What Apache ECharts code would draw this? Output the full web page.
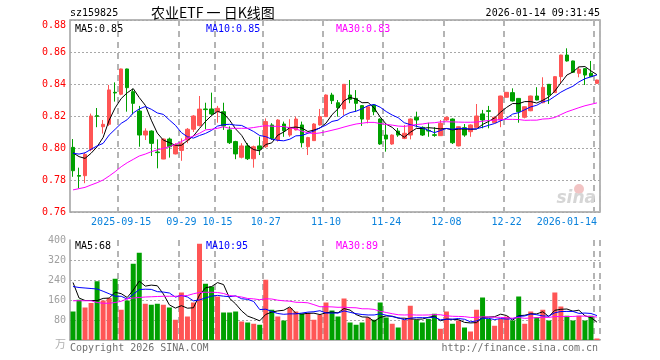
<!DOCTYPE html>
<html><head><meta charset="utf-8">
<script src="https://cdn.jsdelivr.net/npm/echarts@6/dist/echarts.min.js"></script>
<style>html,body{margin:0;padding:0;background:#fff}#c{width:660px;height:360px}</style>
</head><body><div id="c"></div>
<script>
const categories = [
'2025-09-03','2025-09-04','2025-09-05','2025-09-08','2025-09-09','2025-09-10','2025-09-11','2025-09-12','2025-09-15','2025-09-16',
'2025-09-17','2025-09-18','2025-09-19','2025-09-22','2025-09-23','2025-09-24','2025-09-25','2025-09-26','2025-09-29','2025-09-30',
'2025-10-09','2025-10-10','2025-10-13','2025-10-14','2025-10-15','2025-10-16','2025-10-17','2025-10-20','2025-10-21','2025-10-22',
'2025-10-23','2025-10-24','2025-10-27','2025-10-28','2025-10-29','2025-10-30','2025-10-31','2025-11-03','2025-11-04','2025-11-05',
'2025-11-06','2025-11-07','2025-11-10','2025-11-11','2025-11-12','2025-11-13','2025-11-14','2025-11-17','2025-11-18','2025-11-19',
'2025-11-20','2025-11-21','2025-11-24','2025-11-25','2025-11-26','2025-11-27','2025-11-28','2025-12-01','2025-12-02','2025-12-03',
'2025-12-04','2025-12-05','2025-12-08','2025-12-09','2025-12-10','2025-12-11','2025-12-12','2025-12-15','2025-12-16','2025-12-17',
'2025-12-18','2025-12-19','2025-12-22','2025-12-23','2025-12-24','2025-12-25','2025-12-26','2025-12-29','2025-12-30','2025-12-31',
'2026-01-05','2026-01-06','2026-01-07','2026-01-08','2026-01-09','2026-01-12','2026-01-13','2026-01-14'];

const openP = [
0.8004,0.7828,0.7827,0.799,0.8202,0.8133,0.8148,0.8348,0.8336,0.8494,
0.8352,0.8231,0.8081,0.8106,0.7975,0.7931,0.8056,0.7963,0.7985,0.805,
0.8117,0.814,0.8244,0.8244,0.8227,0.8227,0.8113,0.804,0.7942,0.8013,
0.7933,0.8013,0.8008,0.8144,0.805,0.815,0.8081,0.8113,0.8144,0.8008,
0.8046,0.8144,0.8196,0.8331,0.8283,0.8244,0.8331,0.831,0.8265,0.8179,
0.8269,0.8181,0.8081,0.8025,0.8106,0.806,0.8081,0.8192,0.8129,0.811,
0.8083,0.8077,0.8175,0.8181,0.8013,0.8127,0.8102,0.8129,0.8213,0.8233,
0.8158,0.8175,0.8317,0.8346,0.831,0.8192,0.8233,0.8325,0.8283,0.8398,
0.8346,0.8446,0.8581,0.8544,0.8467,0.8496,0.8467,0.8404];
const closeP = [
0.7858,0.7824,0.796,0.820,0.8198,0.8148,0.8363,0.8344,0.8494,0.8377,
0.8279,0.8081,0.8106,0.8029,0.7971,0.8056,0.8008,0.802,0.803,0.8117,
0.820,0.8243,0.824,0.8213,0.8248,0.8138,0.8033,0.7963,0.8013,0.7933,
0.8008,0.7992,0.8165,0.806,0.8175,0.8108,0.8129,0.8181,0.8033,0.8065,
0.815,0.8196,0.8331,0.8296,0.8252,0.8398,0.8304,0.8279,0.8181,0.8258,
0.8227,0.8025,0.8056,0.8081,0.8081,0.8092,0.8181,0.8175,0.8081,0.8106,
0.8079,0.8154,0.8192,0.8033,0.8133,0.8081,0.8144,0.82,0.8175,0.8229,
0.8192,0.8325,0.8348,0.8294,0.8227,0.8258,0.8325,0.830,0.8379,0.8331,
0.8446,0.8581,0.8544,0.8473,0.8492,0.8456,0.8446,0.8425];
const lowP = [
0.782,0.7748,0.778,0.798,0.813,0.809,0.8138,0.829,0.833,0.8227,
0.821,0.8008,0.805,0.795,0.7873,0.793,0.794,0.796,0.792,0.803,
0.81,0.8135,0.8117,0.8205,0.8158,0.8113,0.8025,0.793,0.7935,0.7925,
0.7877,0.7956,0.8,0.805,0.804,0.807,0.807,0.811,0.8004,0.7956,
0.8046,0.814,0.8196,0.8275,0.8196,0.8206,0.828,0.8227,0.8138,0.8154,
0.8205,0.802,0.7977,0.802,0.807,0.8055,0.8054,0.8129,0.8075,0.807,
0.807,0.8075,0.817,0.8025,0.801,0.807,0.807,0.8125,0.8123,0.8123,
0.8155,0.813,0.8315,0.829,0.8158,0.8185,0.823,0.8298,0.828,0.8275,
0.8344,0.8404,0.854,0.847,0.8442,0.8394,0.8444,0.8402];
const highP = [
0.8056,0.7877,0.797,0.8215,0.825,0.8175,0.8394,0.841,0.8496,0.8496,
0.837,0.8263,0.8123,0.811,0.8054,0.806,0.8065,0.803,0.806,0.8125,
0.8205,0.8325,0.8283,0.8346,0.8263,0.8283,0.8135,0.8045,0.803,0.803,
0.8015,0.8071,0.8185,0.8155,0.818,0.8165,0.818,0.8196,0.8165,0.807,
0.8155,0.8244,0.8335,0.8345,0.83,0.84,0.8425,0.8362,0.8268,0.826,
0.8275,0.8185,0.815,0.8085,0.8125,0.8144,0.8185,0.8227,0.8135,0.8158,
0.813,0.8175,0.8196,0.8185,0.8135,0.815,0.8148,0.8275,0.8238,0.8263,
0.8196,0.8327,0.835,0.8373,0.8312,0.826,0.8327,0.838,0.8442,0.84,
0.8448,0.8583,0.8623,0.8546,0.8508,0.85,0.8544,0.8427];
const volumes = [
114,161,130,148,235,158,168,245,121,158,
305,349,145,141,145,141,130,81,190,94,
150,385,225,214,174,110,110,114,74,70,
65,61,241,121,94,78,128,114,105,108,
81,101,150,118,94,166,70,61,70,90,
81,150,90,65,50,81,137,81,70,84,
105,45,114,65,78,50,34,121,170,84,
57,84,94,78,174,65,114,91,121,78,
190,134,97,78,97,78,97,6];

// moving-average values before enough history is visible
const ma5Head  = [0.797,0.7946,0.7935,0.7967];
const ma10Head = [0.7967,0.7962,0.797,0.7992,0.8013,0.8029,0.8081,0.8117,0.8154];
const ma30Head = [0.7738,0.7746,0.7754,0.7769,0.7783,0.78,0.7825,0.7852,0.7883,0.7908,0.7929,0.795,0.7962,0.7977,0.7988,0.7998,0.8008,0.8023,0.804,0.806,0.8075,0.8092,0.8113,0.8117,0.8123,0.8133,0.8123,0.8123,0.8123];
const vma5Head  = [230,168,158,158];
const vma10Head = [214,210,208,206,204,195,185,175,175];
const vma30Head = [157,157,157,157,150,147,147,150,155,165,168,170,172,173,174,175,175,175,176,178,185,190,191,191,190,186,178,175,172];

const tickDates = ['2025-09-15','2025-09-29','2025-10-15','2025-10-27','2025-11-10','2025-11-24','2025-12-08','2025-12-22','2026-01-14'];
const tickTexts = ['2025-09-15','09-29','10-15','10-27','11-10','11-24','12-08','12-22','2026-01-14'];
const priceTicks = [0.76, 0.88, 0.02];
const volTicks = [0, 400, 80];
const headerCode = 'sz159825';
const headerTitle = '农业ETF 一 日K线图';
const headerTime = '2026-01-14 09:31:45';
const priceMaTexts = ['MA5:0.85','MA10:0.85','MA30:0.83'];
const volMaTexts = ['MA5:68','MA10:95','MA30:89'];

function movingAvg(vals, n, head){
  return vals.map((v,i)=>{
    if(i < n-1) return head[i];
    let s=0; for(let k=i-n+1;k<=i;k++) s+=vals[k];
    return +(s/n).toFixed(4);
  });
}

const RED='#ff5555', GREEN='#00a000';
const MONO='"DejaVu Sans Mono", "Liberation Mono", monospace';
const isTick = (idx, val) => tickDates.indexOf(val) >= 0;
const dashLine = {show:true, interval:isTick, lineStyle:{type:[6,5], color:'#b4b4b4', width:2}};

const chart = echarts.init(document.getElementById('c'), null, {renderer:'canvas'});
chart.setOption({
  animation:false,
  backgroundColor:'#fff',
  grid:[
    {left:70, right:60, top:20, height:192, show:true, borderColor:'#a0a0a0', borderWidth:1.5},
    {left:70, right:60, top:240, height:100}
  ],
  xAxis:[
    {type:'category', gridIndex:0, data:categories, boundaryGap:true,
     axisLine:{show:false}, axisTick:{show:false},
     axisLabel:{interval:isTick, formatter:(v)=>tickTexts[tickDates.indexOf(v)], color:'#0a82dc', fontFamily:MONO, fontSize:10, margin:5, alignMaxLabel:'right'},
     splitLine:dashLine},
    {type:'category', gridIndex:1, data:categories, boundaryGap:true, position:'top',
     axisLine:{show:true, lineStyle:{color:'#a0a0a0', width:1.5}}, axisTick:{show:false}, axisLabel:{show:false},
     splitLine:dashLine}
  ],
  yAxis:[
    {type:'value', gridIndex:0, min:priceTicks[0], max:priceTicks[1], interval:priceTicks[2], scale:false,
     axisLine:{show:false}, axisTick:{show:false},
     axisLabel:{color:'#ff0000', fontFamily:MONO, fontSize:10, margin:4, formatter:(v)=>v.toFixed(2), verticalAlignMaxLabel:'top'},
     splitLine:{show:true, lineStyle:{type:[2,2], color:'#a8a8a8', width:1}}},
    {type:'value', gridIndex:1, min:volTicks[0], max:volTicks[1], interval:volTicks[2],
     axisLine:{show:true, lineStyle:{color:'#a0a0a0', width:1.5}}, axisTick:{show:false},
     axisLabel:{color:'#a0a0a0', fontFamily:MONO, fontSize:10, margin:4, formatter:(v)=> v===0?'':String(v)},
     splitLine:{show:true, showMinLine:false, showMaxLine:false, lineStyle:{type:[2,2], color:'#a8a8a8', width:1}}}
  ],
  series:[
    {type:'candlestick', xAxisIndex:0, yAxisIndex:0, barWidth:4,
     data:categories.map((d,i)=>[openP[i], closeP[i], lowP[i], highP[i]]),
     itemStyle:{color:RED, color0:GREEN, borderColor:RED, borderColor0:GREEN, borderWidth:1}},
    {type:'line', xAxisIndex:0, yAxisIndex:0, data:movingAvg(closeP,5,ma5Head), showSymbol:false, lineStyle:{color:'#000', width:1}, z:3},
    {type:'line', xAxisIndex:0, yAxisIndex:0, data:movingAvg(closeP,10,ma10Head), showSymbol:false, lineStyle:{color:'#0000ff', width:1}, z:3},
    {type:'line', xAxisIndex:0, yAxisIndex:0, data:movingAvg(closeP,30,ma30Head), showSymbol:false, lineStyle:{color:'#ff00ff', width:1}, z:3},
    {type:'bar', xAxisIndex:1, yAxisIndex:1, barWidth:5,
     data:volumes.map((v,i)=>({value:v, itemStyle:{color: closeP[i]>=openP[i]?RED:GREEN}}))},
    {type:'line', xAxisIndex:1, yAxisIndex:1, data:movingAvg(volumes,5,vma5Head), showSymbol:false, lineStyle:{color:'#000', width:1}, z:3},
    {type:'line', xAxisIndex:1, yAxisIndex:1, data:movingAvg(volumes,10,vma10Head), showSymbol:false, lineStyle:{color:'#0000ff', width:1}, z:3},
    {type:'line', xAxisIndex:1, yAxisIndex:1, data:movingAvg(volumes,30,vma30Head), showSymbol:false, lineStyle:{color:'#ff00ff', width:1}, z:3}
  ],
  graphic:[
    {type:'text', x:70, y:13, style:{text:headerCode, font:'10px '+MONO, fill:'#000', verticalAlign:'middle'}},
    {type:'text', x:151, y:13, style:{text:headerTitle, font:'14px "Noto Sans CJK SC"', fill:'#000', verticalAlign:'middle'}},
    {type:'text', x:600, y:13, style:{text:headerTime, font:'10px '+MONO, fill:'#000', align:'right', verticalAlign:'middle'}},
    {type:'text', x:75, y:29, z:10, style:{text:priceMaTexts[0], font:'10px '+MONO, fill:'#000', verticalAlign:'middle'}},
    {type:'text', x:206, y:29, z:10, style:{text:priceMaTexts[1], font:'10px '+MONO, fill:'#0000ff', verticalAlign:'middle'}},
    {type:'text', x:336, y:29, z:10, style:{text:priceMaTexts[2], font:'10px '+MONO, fill:'#ff00ff', verticalAlign:'middle'}},
    {type:'text', x:75, y:246, z:10, style:{text:volMaTexts[0], font:'10px '+MONO, fill:'#000', verticalAlign:'middle'}},
    {type:'text', x:206, y:246, z:10, style:{text:volMaTexts[1], font:'10px '+MONO, fill:'#0000ff', verticalAlign:'middle'}},
    {type:'text', x:336, y:246, z:10, style:{text:volMaTexts[2], font:'10px '+MONO, fill:'#ff00ff', verticalAlign:'middle'}},
    {type:'text', x:66, y:344, style:{text:'万', font:'11px "Noto Sans CJK SC"', fill:'#b0b0b0', align:'right', verticalAlign:'middle'}},
    {type:'text', x:70, y:348, style:{text:'Copyright 2026 SINA.COM', font:'10px '+MONO, fill:'#707070', verticalAlign:'middle'}},
    {type:'text', x:598, y:348, style:{text:'http://finance.sina.com.cn', font:'10px '+MONO, fill:'#707070', align:'right', verticalAlign:'middle'}},
    {type:'circle', shape:{cx:579, cy:189, r:5}, style:{fill:'#f2c4c4'}, z:1},
    {type:'text', x:596, y:199, z:1, style:{text:'sina', font:'italic bold 17px "DejaVu Sans"', fill:'#d6d6d6', align:'right', verticalAlign:'middle'}}
  ]
});
</script></body></html>
